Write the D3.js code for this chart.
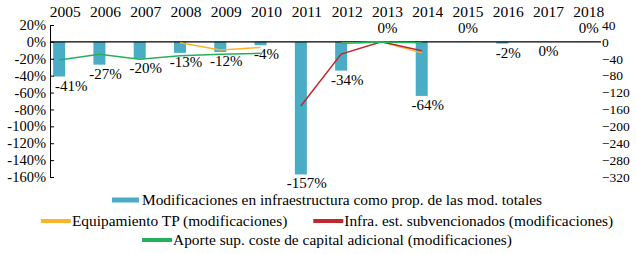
<!DOCTYPE html>
<html>
<head>
<meta charset="utf-8">
<script src="https://cdn.jsdelivr.net/npm/d3@7"></script>
<style>
  body { margin: 0; background: #fff; }
</style>
</head>
<body>
<div id="chart-area"></div>
<script>
const years = ["2005","2006","2007","2008","2009","2010","2011","2012","2013","2014","2015","2016","2017","2018"];
// bars (left axis, %)
const infraPct = [-41, -27, -20, -13, -12, -4, -157, -34, 0.2, -64, 0.2, -2, -0.2, 0.2];
// lines (right axis, modificaciones)
const equipamiento = [null, null, null, -2, -19, -13, null, -3, 0, -26, null, null, null, null];
const infraSubv = [null, null, null, null, null, null, -152, -29, 0, -21, null, null, null, null];
const aporte = [-43, -29, -41, -33, -29, -27, null, -3, 0, -2, null, null, null, null];
const leftTicks = [20, 0, -20, -40, -60, -80, -100, -120, -140, -160];
const rightTicks = [40, 0, -40, -80, -120, -160, -200, -240, -280, -320];

const legendItems = [
  {name: "Modificaciones en infraestructura como prop. de las mod. totales", color: "#4BACC6", type: "bar"},
  {name: "Equipamiento TP (modificaciones)", color: "#FBB42A", type: "line"},
  {name: "Infra. est. subvencionados (modificaciones)", color: "#C0282D", type: "line"},
  {name: "Aporte sup. coste de capital adicional (modificaciones)", color: "#23B05A", type: "line"}
];
const legendRows = [[0], [1, 2], [3]];

const serif = "'Liberation Serif', 'Times New Roman', Times, serif";
const width = 638, height = 254;
const plot = {left: 50, right: 601, top: 25, bottom: 177};

const svg = d3.select("#chart-area").append("svg")
  .attr("width", width)
  .attr("height", height)
  .attr("font-family", serif)
  .style("font-family", serif);

svg.append("rect").attr("width", width).attr("height", height).attr("fill", "#fff");

const x = d3.scaleBand()
  .domain(years)
  .range([45, 609]);
const barW = 12;
const barShift = -6; // bars sit slightly left of the category centre
const cx = d => x(d) + x.bandwidth() / 2;

const yL = d3.scaleLinear().domain([-160, 20]).range([plot.bottom, plot.top]);
const yR = d3.scaleLinear().domain([-320, 40]).range([plot.bottom, plot.top]);

// bars
svg.selectAll(".bar")
  .data(years.map((y, i) => ({year: y, v: infraPct[i]})))
  .enter().append("rect")
  .attr("class", "bar")
  .attr("x", d => cx(d.year) + barShift - barW / 2)
  .attr("y", d => yL(Math.max(0, d.v)))
  .attr("width", barW)
  .attr("height", d => Math.abs(yL(d.v) - yL(0)))
  .attr("fill", "#4BACC6");

// left axis
const axL = svg.append("g")
  .attr("transform", `translate(${plot.left},0)`)
  .call(d3.axisLeft(yL).tickValues(leftTicks).tickSizeInner(-4).tickSizeOuter(0).tickPadding(4).tickFormat(d => d + "%"))
  .attr("font-family", serif)
  .attr("font-size", null);
axL.select(".domain").attr("stroke", "#000");
axL.selectAll(".tick line").attr("stroke", "#000");
axL.selectAll("text").style("font-size", "14.5px").attr("fill", "#000");

// right axis (labels only)
const axR = svg.append("g")
  .attr("transform", `translate(${plot.right},0)`)
  .call(d3.axisRight(yR).tickValues(rightTicks).tickSize(0).tickPadding(1))
  .attr("font-family", serif)
  .attr("font-size", null);
axR.select(".domain").remove();
axR.selectAll("text").style("font-size", "13.5px").attr("fill", "#000");

// zero line
svg.append("line")
  .attr("x1", plot.left).attr("x2", plot.right)
  .attr("y1", yL(0)).attr("y2", yL(0))
  .attr("stroke", "#000").attr("stroke-width", 1.2);

// year labels on top
svg.selectAll(".year")
  .data(years)
  .enter().append("text")
  .attr("class", "year")
  .attr("x", d => cx(d))
  .attr("y", 17)
  .attr("text-anchor", "middle")
  .style("font-size", "15.5px")
  .text(d => d);

// lines
const line = d3.line()
  .defined(d => d.v !== null)
  .x(d => cx(d.year) + barShift)
  .y(d => yR(d.v));

[[equipamiento, legendItems[1].color], [infraSubv, legendItems[2].color], [aporte, legendItems[3].color]]
  .forEach(([vals, col]) => {
    svg.append("path")
      .datum(years.map((y, i) => ({year: y, v: vals[i]})))
      .attr("fill", "none")
      .attr("stroke", col)
      .attr("stroke-width", 1.5)
      .attr("d", line);
  });

// data labels
svg.selectAll(".lbl")
  .data(years.map((y, i) => ({year: y, v: infraPct[i]})))
  .enter().append("text")
  .attr("class", "lbl")
  .attr("x", d => cx(d.year) + (d.year === "2005" ? 6 : 0))
  .attr("y", d => d.v < 0 ? yL(d.v) + 14 : yL(d.v) - 9)
  .attr("text-anchor", "middle")
  .style("font-size", "15px")
  .text(d => `${Math.round(d.v)}%`);

// legend
const rowY = [200, 221, 240];
const centre = 327;
legendRows.forEach((row, r) => {
  const g = svg.append("g");
  let pos = 0;
  row.forEach((idx, k) => {
    const it = legendItems[idx];
    const sw = it.type === "bar" ? 27 : 30;
    const sh = it.type === "bar" ? 5 : 4;
    if (k > 0) pos += 26;
    g.append("rect")
      .attr("x", pos).attr("y", rowY[r] - sh / 2)
      .attr("width", sw).attr("height", sh)
      .attr("fill", it.color);
    pos += sw + (it.type === "bar" ? 3 : 1);
    const t = g.append("text")
      .attr("x", pos).attr("y", rowY[r] + 4.5)
      .style("font-size", "15.4px")
      .text(it.name);
    pos += t.node().getComputedTextLength();
  });
  g.attr("transform", `translate(${centre - pos / 2},0)`);
});
</script>
</body>
</html>
